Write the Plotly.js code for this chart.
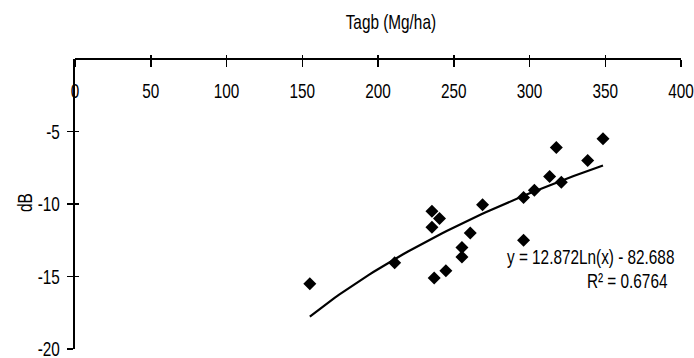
<!DOCTYPE html>
<html><head><meta charset="utf-8">
<script src="https://cdn.plot.ly/plotly-3.0.1.min.js"></script>
<style>html,body{margin:0;padding:0;background:#fff}#c{width:694px;height:358px}</style>
</head><body><div id="c"></div>
<script>
const tagb = [155, 211, 235.6, 240.6, 235.6, 237.1, 244.8, 255.4, 255.4, 260.9, 269, 296.1, 296.1, 303.2, 313.3, 317.7, 321, 338.4, 348.5];
const dB   = [-15.5, -14.05, -10.5, -11.0, -11.6, -15.1, -14.6, -13.0, -13.65, -12.0, -10.05, -12.5, -9.55, -9.05, -8.1, -6.1, -8.5, -7.0, -5.5];
const coefA = 12.872, coefB = -82.688, r2 = 0.6764;
const xTicks = [0, 50, 100, 150, 200, 250, 300, 350, 400];
const yTicks = [-20, -15, -10, -5];

const xmin = Math.min(...tagb), xmax = Math.max(...tagb);
const tx = [], ty = [];
for (let i = 0; i <= 60; i++) { const x = xmin + (xmax - xmin) * i / 60; tx.push(x); ty.push(coefA * Math.log(x) + coefB); }

const F = "'Liberation Sans',Arial,sans-serif";
const FS = 21;
const data = [
  {x: tx, y: ty, mode: 'lines', line: {color: '#000', width: 2.2}, hoverinfo: 'skip'},
  {x: tagb, y: dB, mode: 'markers', marker: {symbol: 'diamond', size: 10, color: '#000'}},
  {x: [0], y: [0], xaxis: 'x2', yaxis: 'y2', mode: 'markers', marker: {opacity: 0}, hoverinfo: 'skip'}
];
const common = {showgrid: false, zeroline: false, linecolor: '#000', tickcolor: '#000', fixedrange: true};
const layout = {
  width: 694, height: 358, showlegend: false,
  margin: {l: 75, r: 13, t: 59, b: 9},
  paper_bgcolor: '#fff', plot_bgcolor: '#fff',
  font: {family: F, size: FS, color: '#000'},
  xaxis: Object.assign({}, common, {range: [0, 400], side: 'bottom', anchor: 'free', position: 1,
    tickvals: xTicks, ticktext: xTicks.map(String),
    showline: true, linewidth: 2, ticks: 'outside', ticklen: 7, tickwidth: 1.5, ticklabelstandoff: 6, ticklabeloverflow: 'allow'}),
  yaxis: Object.assign({}, common, {range: [-20, 0], tickvals: yTicks, ticktext: yTicks.map(String),
    showline: true, linewidth: 2, ticks: 'outside', ticklen: 6, tickwidth: 1.5, ticklabelstandoff: 3, ticklabeloverflow: 'allow'}),
  xaxis2: Object.assign({}, common, {range: [0, 400], overlaying: 'x', side: 'bottom', anchor: 'free', position: 1,
    tickvals: xTicks, showticklabels: false, showline: false, ticks: 'inside', ticklen: 4, tickwidth: 1.5}),
  yaxis2: Object.assign({}, common, {range: [-20, 0], overlaying: 'y', side: 'left', tickvals: yTicks, showticklabels: false,
    showline: false, ticks: 'inside', ticklen: 4, tickwidth: 1.5}),
  annotations: [
    {xref: 'paper', yref: 'paper', x: 0.521, y: 1.13, xanchor: 'center', yanchor: 'middle', text: 'Tagb (Mg/ha)', showarrow: false},
    {xref: 'paper', yref: 'paper', x: -0.0825, y: 0.505, xanchor: 'center', yanchor: 'middle', text: 'dB', textangle: -90, showarrow: false},
    {x: 340.0, y: -13.64, xanchor: 'center', yanchor: 'middle', text: 'y = ' + coefA + 'Ln(x) - ' + Math.abs(coefB), showarrow: false},
    {x: 364.6, y: -15.28, xanchor: 'center', yanchor: 'middle', text: 'R² = ' + r2, showarrow: false}
  ]
};
Plotly.newPlot('c', data, layout, {staticPlot: true}).then(function () {
  document.querySelectorAll('#c text').forEach(function (t) {
    const L = t.getComputedTextLength();
    if (L > 0) { t.setAttribute('textLength', (L * 0.73).toFixed(2)); t.setAttribute('lengthAdjust', 'spacingAndGlyphs'); }
  });
});
</script></body></html>
